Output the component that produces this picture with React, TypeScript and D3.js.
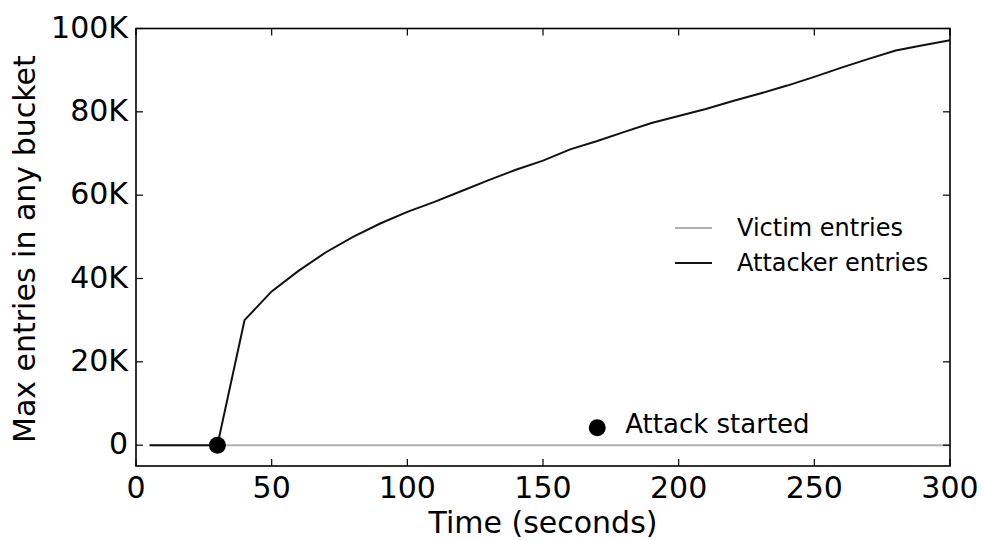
import React from "react";
import * as d3 from "d3";

const times = [5, 10, 20, 30, 40, 50, 60, 70, 80, 90, 100, 110, 120, 130, 140, 150, 160, 170, 180, 190, 200, 210, 220, 230, 240, 250, 260, 270, 280, 290, 300];
const attacker = [0, 0, 0, 0, 30000, 36900, 41900, 46300, 50000, 53200, 56000, 58400, 61000, 63600, 66100, 68300, 71000, 73000, 75200, 77300, 79000, 80700, 82600, 84400, 86300, 88400, 90600, 92700, 94700, 96000, 97200];
const victim = times.map(() => 0);
const xTicks = [0, 50, 100, 150, 200, 250, 300];
const yTicks = [0, 20000, 40000, 60000, 80000, 100000];
const yTickLabels = ["0", "20K", "40K", "60K", "80K", "100K"];
const seriesNames = ["Victim entries", "Attacker entries"];
const attackStart = { t: 30, v: 0 };
const annotationMarker = { t: 170, v: 4200, label: "Attack started" };

const W = 984, H = 540;
const left = 136, right = 950, top = 28.5, bottom = 466;
const FONT = "DejaVu Sans";

export default function App() {
  const x = d3.scaleLinear().domain([0, 300]).range([left, right]);
  const y = d3.scaleLinear().domain([-5000, 100000]).range([bottom, top]);
  const line = d3.line<number>().x((_, i) => x(times[i])).y((d) => y(d));
  const tickLen = 7;
  return (
    <svg width={W} height={H} style={{ position: "absolute", left: 0, top: 0, background: "#fff" }} fontFamily={FONT}>
      <rect x={0} y={0} width={W} height={H} fill="#fff" />
      <path d={line(victim) || ""} fill="none" stroke="#b0b0b0" strokeWidth={2} />
      <path d={line(attacker) || ""} fill="none" stroke="#111" strokeWidth={2} />
      <circle cx={x(attackStart.t)} cy={y(attackStart.v)} r={8.5} fill="#000" />
      <circle cx={x(annotationMarker.t)} cy={y(annotationMarker.v)} r={8.5} fill="#000" />
      <text x={x(annotationMarker.t) + 28} y={y(annotationMarker.v) + 5} fontSize={26} fill="#000">{annotationMarker.label}</text>
      {/* legend */}
      {seriesNames.map((n, i) => (
        <g key={n}>
          <line x1={675} x2={712} y1={228 + i * 35} y2={228 + i * 35} stroke={i === 0 ? "#b0b0b0" : "#111"} strokeWidth={2} />
          <text x={737} y={228 + i * 35 + 8} fontSize={24} fill="#000">{n}</text>
        </g>
      ))}
      {/* ticks */}
      {xTicks.map((t) => (
        <g key={"x" + t}>
          <line x1={x(t)} x2={x(t)} y1={bottom} y2={bottom - tickLen} stroke="#000" strokeWidth={1.2} />
          <line x1={x(t)} x2={x(t)} y1={top} y2={top + tickLen} stroke="#000" strokeWidth={1.2} />
          <text x={x(t)} y={498} textAnchor="middle" fontSize={30} fill="#000">{t}</text>
        </g>
      ))}
      {yTicks.map((t, i) => (
        <g key={"y" + t}>
          <line x1={left} x2={left + tickLen} y1={y(t)} y2={y(t)} stroke="#000" strokeWidth={1.2} />
          <line x1={right} x2={right - tickLen} y1={y(t)} y2={y(t)} stroke="#000" strokeWidth={1.2} />
          <text x={128} y={y(t) + 9} textAnchor="end" fontSize={30} fill="#000">{yTickLabels[i]}</text>
        </g>
      ))}
      <rect x={left} y={top} width={right - left} height={bottom - top} fill="none" stroke="#000" strokeWidth={1.6} />
      <text x={(left + right) / 2} y={533} textAnchor="middle" fontSize={30} fill="#000">Time (seconds)</text>
      <text transform={`translate(35,443) rotate(-90)`} textAnchor="start" fontSize={30} fill="#000">Max entries in any bucket</text>
    </svg>
  );
}
